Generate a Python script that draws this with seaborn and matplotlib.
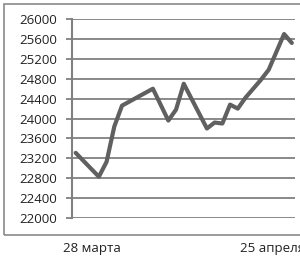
import pandas as pd
import seaborn as sns
import matplotlib.pyplot as plt
from matplotlib.patches import Rectangle

# day offset from 28 March, index value
days = [0, 3, 4, 5, 6, 10, 12, 13, 14, 17, 18, 19, 20, 21, 22, 23, 24, 25, 26, 27, 28]
values = [23310, 22830, 23130, 23840, 24260, 24600, 23960, 24180, 24700, 23800,
          23920, 23900, 24280, 24200, 24420, 24600, 24780, 24980, 25340, 25700, 25520]
y_ticks = [22000, 22400, 22800, 23200, 23600, 24000, 24400, 24800, 25200, 25600, 26000]
x_label_pos = [2.1, 25.5]
x_labels = ["28 марта", "25 апреля"]

data = pd.DataFrame({"day": days, "value": values})

sns.set_style("white")
plt.rcParams["font.family"] = ["Open Sans", "DejaVu Sans"]

fig = plt.figure(figsize=(3.0, 2.58), dpi=100)
ax = fig.add_axes([0.24, 0.155, 0.743, 0.771])

# outer frame
fig.patches.append(Rectangle((0.013, 0.089), 1.2, 0.897, transform=fig.transFigure,
                             fill=False, edgecolor="#8a8a8a", linewidth=1.2))

sns.lineplot(x="day", y="value", data=data, ax=ax, color="#606060", linewidth=3.0)

ax.set_ylim(22000, 26000)
ax.set_xlim(-0.48, 28.4)
ax.set_yticks(y_ticks)
ax.set_yticklabels([str(t) for t in y_ticks], fontsize=9.5, color="#222222")
ax.set_xticks(x_label_pos)
ax.set_xticklabels(x_labels, fontsize=9.5, color="#222222")
ax.tick_params(axis="x", length=0, pad=17)
ax.tick_params(axis="y", length=4.5, width=1.3, color="#808080", pad=6, left=True)
ax.grid(axis="y", color="#808080", linewidth=1.3)
ax.set_axisbelow(True)
for s in ["top", "right", "bottom"]:
    ax.spines[s].set_visible(False)
ax.spines["left"].set_color("#808080")
ax.spines["left"].set_linewidth(1.5)
ax.set_xlabel("")
ax.set_ylabel("")

plt.savefig("out.png", dpi=100)
